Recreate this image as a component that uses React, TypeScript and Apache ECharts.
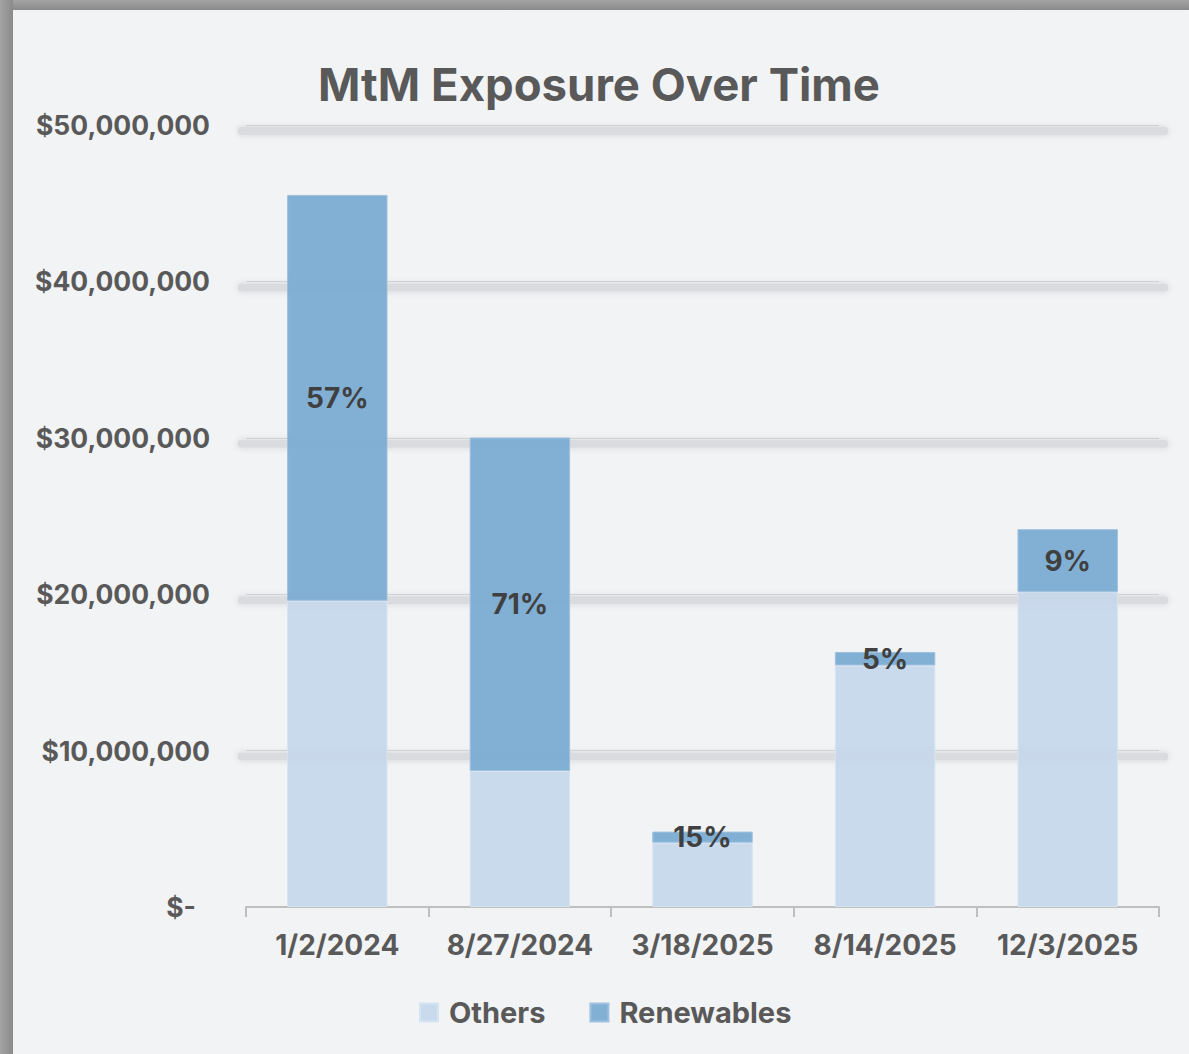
import React, { useEffect, useRef } from "react";
import * as echarts from "echarts";

const categories = ["1/2/2024", "8/27/2024", "3/18/2025", "8/14/2025", "12/3/2025"];
const others = [19580000, 8700000, 4110000, 15440000, 20130000];
const renewables = [25950000, 21320000, 710000, 870000, 4030000];
const shareLabels = ["57%", "71%", "15%", "5%", "9%"];
const yTicks = [0, 10000000, 20000000, 30000000, 40000000, 50000000];

const FONT = "Inter, 'Open Sans', sans-serif";
const TXT = "#595959";

export default function App() {
  const ref = useRef<HTMLDivElement>(null);
  useEffect(() => {
    if (!ref.current) return;
    const chart = echarts.init(ref.current, undefined, { renderer: "svg" });
    const frame = [
      {
        type: "rect",
        shape: { x: 0, y: 0, width: 1189, height: 10 },
        style: {
          fill: new echarts.graphic.LinearGradient(0, 0, 0, 1, [
            { offset: 0, color: "#a4a4a4" },
            { offset: 1, color: "#8a8a8a" },
          ]),
        },
        silent: true,
        z: 100,
      },
      {
        type: "rect",
        shape: { x: 0, y: 0, width: 13, height: 1054 },
        style: {
          fill: new echarts.graphic.LinearGradient(0, 0, 1, 0, [
            { offset: 0, color: "#a4a4a4" },
            { offset: 1, color: "#8a8a8a" },
          ]),
        },
        silent: true,
        z: 100,
      },
    ];
    chart.setOption({
      animation: false,
      backgroundColor: "#f2f3f5",
      textStyle: { fontFamily: FONT },
      title: {
        text: "MtM Exposure Over Time",
        left: 313,
        top: 56,
        textStyle: { fontFamily: FONT, fontSize: 45.5, fontWeight: "bold", color: TXT },
      },
      legend: {
        top: 993,
        left: 414,
        itemWidth: 18,
        itemHeight: 18,
        itemGap: 44,
        icon: "rect",
        textStyle: { fontFamily: FONT, fontSize: 29, fontWeight: "bold", color: TXT, padding: [0, 0, 0, 6] },
        data: ["Others", "Renewables"],
      },
      grid: { left: 246, right: 30, top: 125, bottom: 147, containLabel: false },
      xAxis: {
        type: "category",
        data: categories,
        axisLine: { lineStyle: { color: "#bfbfbf", width: 2 } },
        axisTick: { show: true, interval: 0, length: 10, lineStyle: { color: "#bfbfbf", width: 2 } },
        axisLabel: { interval: 0, margin: 24, fontFamily: FONT, fontSize: 28, fontWeight: "bold", color: TXT },
      },
      yAxis: {
        type: "value",
        min: yTicks[0],
        max: yTicks[yTicks.length - 1],
        interval: yTicks[1] - yTicks[0],
        axisLine: { show: false },
        axisTick: { show: false },
        axisLabel: {
          margin: 36,
          fontFamily: FONT,
          fontSize: 26.5,
          fontWeight: "bold",
          color: TXT,
          formatter: (v: number) =>
            v === 0 ? "{z|$-}" : "$" + v.toLocaleString("en-US"),
          rich: {
            z: { fontFamily: FONT, fontSize: 26.5, fontWeight: "bold", color: TXT, padding: [0, 14, 0, 0] },
          },
        },
        splitLine: {
          show: true,
          lineStyle: { color: "#d8d9dc", width: 1 },
        },
      },
      series: [
        {
          name: "Others",
          type: "bar",
          stack: "total",
          data: others,
          barCategoryGap: "45%",
          z: 3,
          itemStyle: { color: "rgba(198,215,235,0.93)", borderColor: "#d6e3f1", borderWidth: 1 },
        },
        {
          name: "Renewables",
          type: "bar",
          stack: "total",
          data: renewables,
          z: 3,
          itemStyle: { color: "rgba(122,170,210,0.93)", borderColor: "#9fc1df", borderWidth: 1 },
          label: {
            show: true,
            position: "inside",
            formatter: (p: any) => shareLabels[p.dataIndex],
            fontFamily: FONT,
            fontSize: 28,
            fontWeight: "bold",
            color: "#404040",
          },
        },
      ],
      graphic: frame,
    });

    // soft shadow bands under each gridline, placed via the axis scale
    const bands = yTicks.slice(1).map((t) => {
      const y = chart.convertToPixel({ yAxisIndex: 0 }, t) as number;
      return {
        type: "rect",
        shape: { x: 238, y: y + 2, width: 930, height: 8, r: 3 },
        style: { fill: "#dadbde", shadowBlur: 6, shadowColor: "rgba(0,0,0,0.12)" },
        silent: true,
        z: 0,
      };
    });
    chart.setOption({ graphic: [...frame, ...bands] }, { replaceMerge: ["graphic"] });
    return () => chart.dispose();
  }, []);
  return (
    <div
      ref={ref}
      style={{ position: "fixed", left: 0, top: 0, width: 1189, height: 1054 }}
    />
  );
}
